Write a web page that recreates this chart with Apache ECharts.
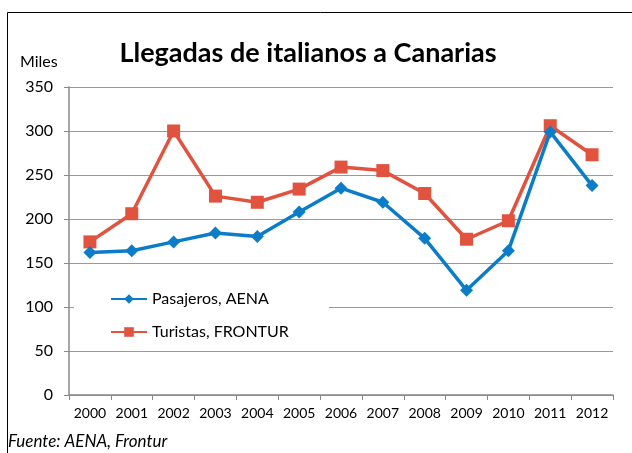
<!DOCTYPE html>
<html>
<head>
<meta charset="utf-8">
<script src="https://cdn.jsdelivr.net/npm/echarts@6/dist/echarts.min.js"></script>
<style>
  html, body { margin: 0; padding: 0; background: #fff; }
  #chart { width: 632px; height: 453px; }
</style>
</head>
<body>
<div id="chart"></div>
<script>
// data (miles)
var years = ["2000", "2001", "2002", "2003", "2004", "2005", "2006", "2007", "2008", "2009", "2010", "2011", "2012"];
var pasajeros = [162, 164, 174, 184, 180, 208, 235, 219, 178, 119, 164, 299, 238];
var turistas = [174, 206, 300, 226, 219, 234, 259, 255, 229, 177, 198, 306, 273];

var font = "Lato";
var myChart = echarts.init(document.getElementById("chart"));

myChart.setOption({
  animation: false,
  textStyle: { fontFamily: font, color: "#000" },
  title: {
    text: "Llegadas de italianos a Canarias",
    left: 303,
    top: 35,
    textAlign: "center",
    textStyle: { fontSize: 27, fontWeight: "bold", fontFamily: font, color: "#000" },
  },
  graphic: [
    {
      type: "rect",
      shape: { x: 7.5, y: 12.5, width: 640, height: 470 },
      style: { fill: null, stroke: "#000", lineWidth: 1 },
      z: -1,
    },
    {
      type: "text",
      left: 20,
      top: 54,
      style: { text: "Miles", font: "16px " + font, fill: "#000" },
    },
    {
      type: "text",
      left: 8,
      top: 433,
      style: { text: "Fuente: AENA, Frontur", font: "italic 17px " + font, fill: "#000" },
    },
  ],
  legend: {
    orient: "vertical",
    left: 74,
    top: 287,
    itemWidth: 36,
    itemHeight: 12,
    itemGap: 17,
    padding: [4, 40, 4, 36],
    backgroundColor: "#fff",
    textStyle: { fontSize: 16, fontFamily: font, color: "#000" },
    data: ["Pasajeros, AENA", "Turistas, FRONTUR"],
    z: 10,
  },
  grid: { left: 69, right: 19, top: 87, bottom: 58 },
  xAxis: {
    type: "category",
    data: years,
    boundaryGap: true,
    axisLine: { lineStyle: { color: "#888", width: 1.5 } },
    axisTick: { show: true, length: 5, interval: 0, lineStyle: { color: "#888" } },
    axisLabel: { fontSize: 14, color: "#000", margin: 11, interval: 0, fontFamily: font },
  },
  yAxis: {
    type: "value",
    min: 0,
    max: 350,
    interval: 50,
    axisLine: { show: true, lineStyle: { color: "#888", width: 1.5 } },
    axisTick: { show: true, length: 5, lineStyle: { color: "#888" } },
    axisLabel: { fontSize: 16, color: "#000", margin: 16, fontFamily: font },
    splitLine: { lineStyle: { color: "#999", width: 1.2 } },
  },
  series: [
    {
      name: "Pasajeros, AENA",
      type: "line",
      data: pasajeros,
      color: "#0b7dc8",
      lineStyle: { width: 3.5 },
      symbol: "diamond",
      symbolSize: 13,
      z: 3,
    },
    {
      name: "Turistas, FRONTUR",
      type: "line",
      data: turistas,
      color: "#e1533f",
      lineStyle: { width: 3.5 },
      symbol: "rect",
      symbolSize: 13,
      z: 2,
    },
  ],
});
</script>
</body>
</html>
